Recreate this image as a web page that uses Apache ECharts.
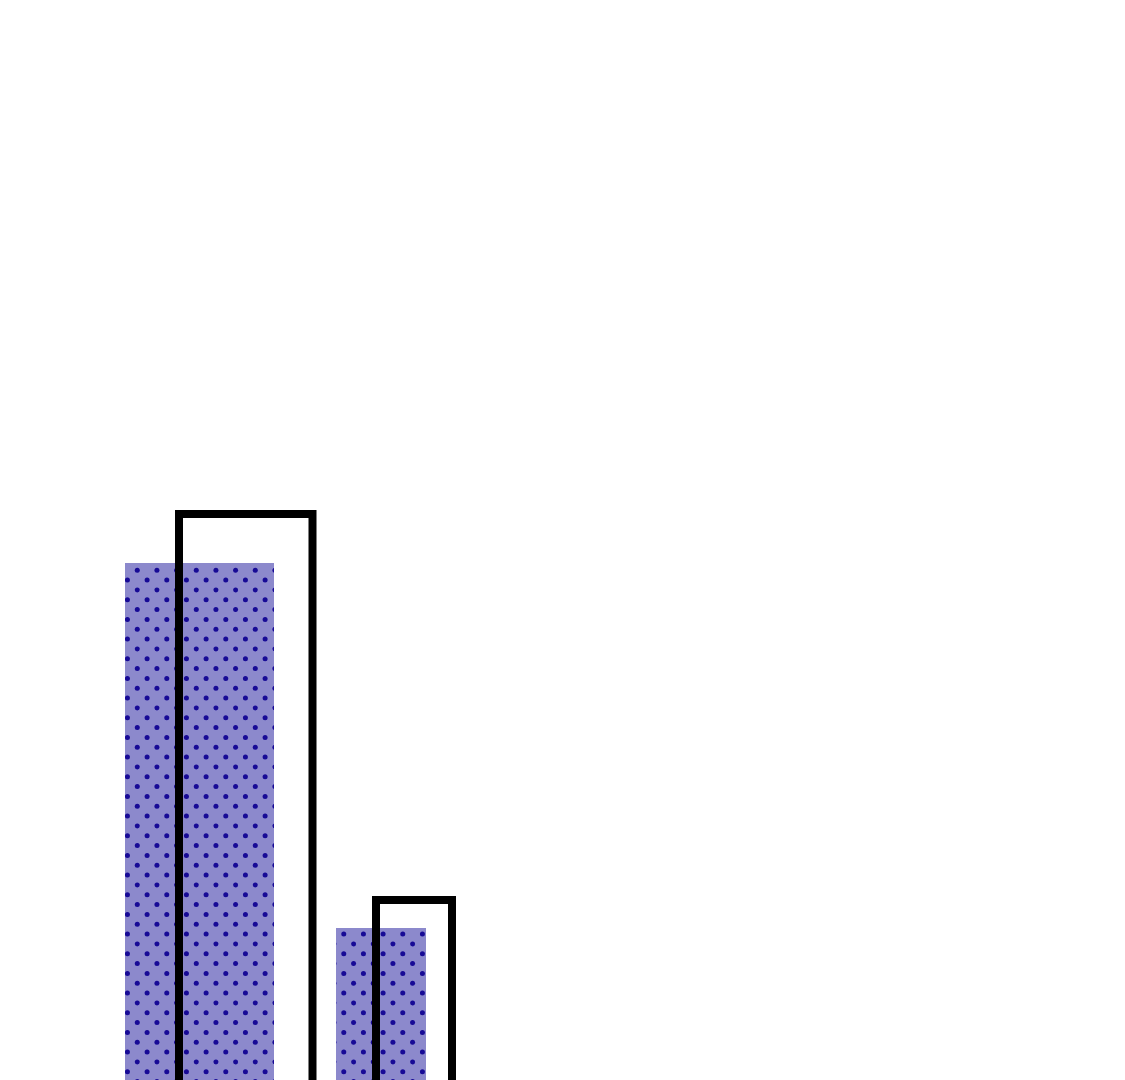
<!DOCTYPE html>
<html>
<head>
<meta charset="utf-8">
<script src="https://cdn.jsdelivr.net/npm/echarts@6/dist/echarts.min.js"></script>
<style>
html,body{margin:0;padding:0;background:#fff;}
#chart{width:1125px;height:1080px;}
</style>
</head>
<body>
<div id="chart"></div>
<script>
// Filled (dotted) bars: start, end, height
var filledStart = [12.5, 33.6];
var filledEnd = [27.4, 42.6];
var filledValue = [63.7, 27.2];
// Outline bars: start, end, height
var outlineStart = [17.9, 37.6];
var outlineEnd = [31.25, 45.2];
var outlineValue = [68.6, 30.0];

var filledData = filledStart.map(function (s, i) { return [s, filledEnd[i], filledValue[i]]; });
var outlineData = outlineStart.map(function (s, i) { return [s, outlineEnd[i], outlineValue[i]]; });

// dotted fill pattern (staggered dots)
var pc = document.createElement('canvas');
pc.width = 59; pc.height = 59;
var g = pc.getContext('2d');
g.fillStyle = '#8c89cc';
g.fillRect(0, 0, 59, 59);
g.fillStyle = '#170a96';
var per = 59 / 3;
for (var j = -1; j <= 3; j++) {
  for (var k = -1; k <= 3; k++) {
    [[j * per - 0.4, k * per - 0.1], [(j + 0.5) * per - 0.4, (k + 0.5) * per - 0.1]].forEach(function (p) {
      g.beginPath(); g.arc(p[0], p[1], 2.5, 0, Math.PI * 2); g.fill();
    });
  }
}

var chart = echarts.init(document.getElementById('chart'), null, {renderer: 'canvas'});
chart.setOption({
  backgroundColor: '#ffffff',
  animation: false,
  grid: {left: 0, top: 0, right: 0, bottom: 0},
  xAxis: {type: 'value', min: 0, max: 112.5, show: false},
  yAxis: {type: 'value', min: 12, max: 120, show: false},
  series: [
    {
      type: 'custom',
      data: filledData,
      clip: false,
      dimensions: ['start', 'end', 'value'],
      renderItem: function (params, api) {
        var p0 = api.coord([api.value(0), api.value(2)]);
        var p1 = api.coord([api.value(1), 0]);
        return {
          type: 'rect',
          shape: {x: p0[0], y: p0[1], width: p1[0] - p0[0], height: p1[1] - p0[1]},
          style: {
            fill: {image: pc, repeat: 'repeat'},
            stroke: null
          }
        };
      },
      z: 1
    },
    {
      type: 'custom',
      data: outlineData,
      clip: false,
      dimensions: ['start', 'end', 'value'],
      renderItem: function (params, api) {
        var p0 = api.coord([api.value(0), api.value(2)]);
        var p1 = api.coord([api.value(1), 0]);
        return {
          type: 'rect',
          shape: {x: p0[0], y: p0[1], width: p1[0] - p0[0], height: p1[1] - p0[1]},
          style: {fill: 'none', stroke: '#000000', lineWidth: 8}
        };
      },
      z: 2
    }
  ]
});
</script>
</body>
</html>
